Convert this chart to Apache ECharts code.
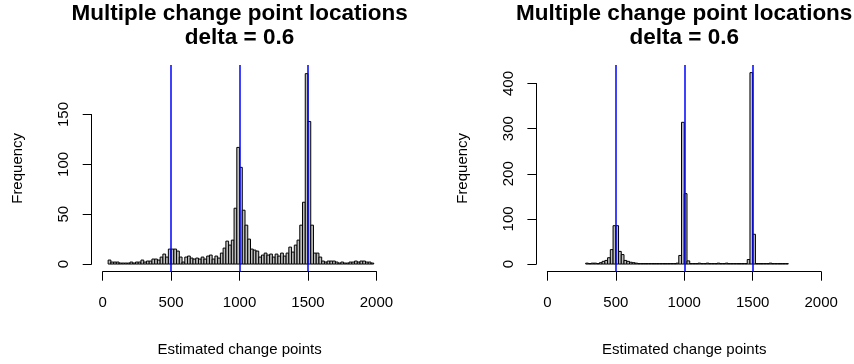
<!DOCTYPE html>
<html>
<head>
<meta charset="utf-8">
<script src="https://cdn.jsdelivr.net/npm/echarts@6/dist/echarts.min.js"></script>
<style>
html,body{margin:0;padding:0;background:#fff;}
#chart{width:854px;height:364px;}
</style>
</head>
<body>
<div id="chart"></div>
<script>
// ---- data ----
const titleText = "Multiple change point locations";
const subTitleText = "delta = 0.6";
const xLabel = "Estimated change points";
const yLabel = "Frequency";
const binWidth = 20;
const xTicks = [0, 500, 1000, 1500, 2000];
const trueChangePoints = [500, 1000, 1500];

const leftStart = 40;
const leftCounts = [4,2,2,2,1,1,1,1,2,1,2,2,4,2,3,3,5,5,4,7,10,7,15,15,15,13,7,2,7,8,6,5,6,5,7,5,8,9,5,8,6,11,16,23,19,24,56,117,97,54,39,25,15,14,13,7,9,11,9,10,7,10,8,11,8,11,17,12,19,24,39,62,191,143,39,11,11,7,3,2,3,3,3,2,1,2,1,1,2,2,3,2,3,3,2,2,1];
const leftYTicks = [0, 50, 100, 150];

const rightStart = 280;
const rightCounts = [2,1,2,2,1,3,6,8,14,32,85,85,28,21,8,6,4,3,2,1,1,1,1,1,1,1,1,1,1,1,1,1,1,2,19,314,156,7,1,1,1,2,1,1,2,1,1,1,2,1,1,2,1,1,1,1,1,1,1,10,424,66,1,1,1,1,1,2,1,1,1,1,1,1];
const rightYTicks = [0, 100, 200, 300, 400];

// ---- layout ----
const FONT = "'Liberation Sans', Arial, Helvetica, sans-serif";
const xMin = -80, xMax = 2080;
const panels = [
  {left: 91.7, counts: leftCounts, start: leftStart, yTicks: leftYTicks, yMin: -7.68, yMax: 199.68},
  {left: 536.4, counts: rightCounts, start: rightStart, yTicks: rightYTicks, yMin: -16.96, yMax: 440.96}
];
const plotTop = 65, plotH = 206.7, plotW = 295.7;

function binsOf(start, counts) {
  return counts.map((c, i) => [start + i * binWidth, start + (i + 1) * binWidth, c]);
}
const plainNum = v => String(v);
const gridBase = {containLabel: false, outerBoundsMode: 'none'};

const grids = [], xAxes = [], yAxes = [], series = [], graphics = [];
panels.forEach((p, pi) => {
  const g0 = grids.length;
  // data grid
  grids.push(Object.assign({left: p.left, top: plotTop, width: plotW, height: plotH}, gridBase));
  xAxes.push({type: 'value', gridIndex: g0, min: xMin, max: xMax,
    axisLine: {show: false}, axisTick: {show: false}, axisLabel: {show: false}, splitLine: {show: false},
    name: xLabel, nameLocation: 'middle', nameGap: 71,
    nameTextStyle: {fontFamily: FONT, fontSize: 15, color: '#000'}});
  yAxes.push({type: 'value', gridIndex: g0, min: p.yMin, max: p.yMax,
    axisLine: {show: false}, axisTick: {show: false}, axisLabel: {show: false}, splitLine: {show: false},
    name: yLabel, nameLocation: 'middle', nameGap: 66, nameRotate: 90,
    nameTextStyle: {fontFamily: FONT, fontSize: 15, color: '#000'}});
  // x-axis grid (spans 0..2000)
  const kx = plotW / (xMax - xMin);
  const x0px = p.left + (xTicks[0] - xMin) * kx;
  const xwpx = (xTicks[xTicks.length - 1] - xTicks[0]) * kx;
  const bottomPx = plotTop + plotH;
  grids.push(Object.assign({left: x0px, top: bottomPx - 1, width: xwpx, height: 1}, gridBase));
  xAxes.push({type: 'value', gridIndex: g0 + 1, min: xTicks[0], max: xTicks[xTicks.length - 1], interval: 500,
    axisLine: {show: true, lineStyle: {color: '#000', width: 1}},
    axisTick: {show: true, length: 9, lineStyle: {color: '#000', width: 1}},
    axisLabel: {show: true, margin: 24, fontFamily: FONT, fontSize: 15, color: '#000', formatter: plainNum},
    splitLine: {show: false}});
  yAxes.push({type: 'value', gridIndex: g0 + 1, show: false, min: 0, max: 1});
  // y-axis grid (spans first..last y tick)
  const ky = plotH / (p.yMax - p.yMin);
  const yt0 = p.yTicks[0], yt1 = p.yTicks[p.yTicks.length - 1];
  const y0px = plotTop + (p.yMax - yt0) * ky;
  const y1px = plotTop + (p.yMax - yt1) * ky;
  grids.push(Object.assign({left: p.left, top: y1px, width: 1, height: y0px - y1px}, gridBase));
  xAxes.push({type: 'value', gridIndex: g0 + 2, show: false, min: 0, max: 1});
  yAxes.push({type: 'value', gridIndex: g0 + 2, min: yt0, max: yt1, interval: p.yTicks[1] - p.yTicks[0],
    axisLine: {show: true, lineStyle: {color: '#000', width: 1}},
    axisTick: {show: true, length: 9, lineStyle: {color: '#000', width: 1}},
    axisLabel: {show: true, rotate: 90, margin: 20, fontFamily: FONT, fontSize: 15, color: '#000', formatter: plainNum},
    splitLine: {show: false}});

  series.push({
    type: 'custom', xAxisIndex: g0, yAxisIndex: g0,
    data: binsOf(p.start, p.counts),
    encode: {x: [0, 1], y: 2},
    clip: false, silent: true,
    renderItem: function (params, api) {
      const a = api.coord([api.value(0), 0]);
      const b = api.coord([api.value(1), api.value(2)]);
      return {type: 'rect',
        shape: {x: a[0], y: b[1], width: b[0] - a[0], height: a[1] - b[1]},
        style: {fill: '#BEBEBE', stroke: '#000', lineWidth: 1}};
    },
    markLine: {
      silent: true, symbol: ['none', 'none'], label: {show: false},
      lineStyle: {color: '#0000FF', width: 1.5, type: 'solid'},
      data: trueChangePoints.map(v => ({xAxis: v}))
    },
    animation: false
  });

  graphics.push({type: 'text', x: p.left + plotW / 2, y: 2,
    style: {text: titleText + "\n" + subTitleText, textAlign: 'center', textVerticalAlign: 'top',
      font: "bold 22.5px " + FONT, lineHeight: 24, fill: '#000'}});
});

const chart = echarts.init(document.getElementById('chart'), null, {renderer: 'canvas'});
chart.setOption({
  animation: false,
  backgroundColor: '#fff',
  grid: grids, xAxis: xAxes, yAxis: yAxes, series: series,
  graphic: graphics
});
</script>
</body>
</html>
